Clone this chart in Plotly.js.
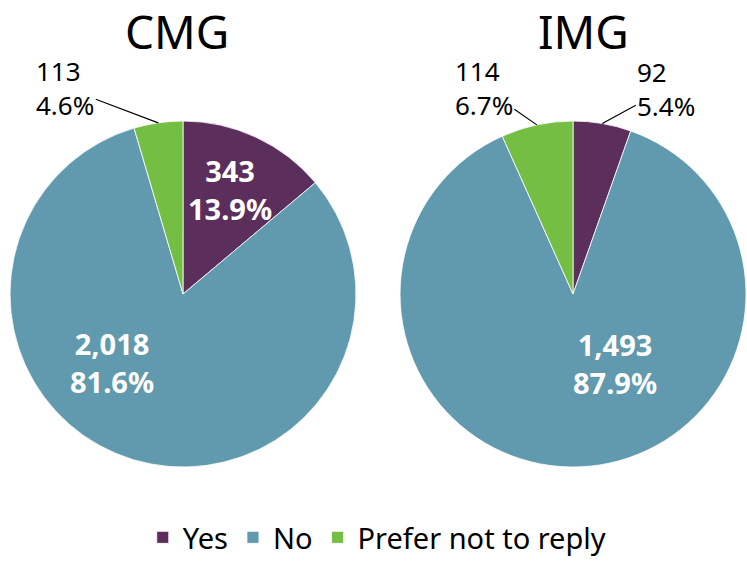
<!DOCTYPE html>
<html>
<head>
<meta charset="utf-8">
<script src="https://cdn.plot.ly/plotly-3.0.1.min.js"></script>
<style>html,body{margin:0;padding:0;background:#fff;}#chart{width:747px;height:563px;}</style>
</head>
<body>
<div id="chart"></div>
<script>
// ---- data ----
const categories = ['Yes', 'No', 'Prefer not to reply'];
const groups = ['CMG', 'IMG'];
const cmgValues = [343, 2018, 113];
const imgValues = [92, 1493, 114];
const colors = ['#5b2e5c', '#619aae', '#74be44'];

// ---- layout / styling ----
const W = 747, H = 563;
const FONT = '"Noto Sans", "Open Sans", sans-serif';
const domainsX = [[0.0134, 0.4766], [0.5355, 0.9987]];
const domainY = [0.1705, 0.785];
// label placement per slice: inside (anchor at 0.6R + pixel shift) or outside (arrow from rim, text offset)
const labelPlacement = [
  [{mode: 'in', dx: 3, dy: -10}, {mode: 'in', dx: -41, dy: -31}, {mode: 'out', dx: -93, dy: -35}],
  [{mode: 'out', dx: 64, dy: -35}, {mode: 'in', dx: 38, dy: -34}, {mode: 'out', dx: -53, dy: -37}]
];
const titleX = [177, 583];

const allValues = [cmgValues, imgValues];
const data = allValues.map((vals, i) => ({
  type: 'pie',
  name: groups[i],
  labels: categories,
  values: vals,
  sort: false,
  direction: 'clockwise',
  rotation: 0,
  domain: {x: domainsX[i], y: domainY},
  marker: {colors: colors, line: {color: '#ffffff', width: 0.8}},
  textinfo: 'none',
  hoverinfo: 'label+value+percent',
  showlegend: i === 0
}));

const fmt = n => n.toLocaleString('en-US');
const annotations = [];
allValues.forEach((vals, i) => {
  const total = vals.reduce((a, b) => a + b, 0);
  const cx = (domainsX[i][0] + domainsX[i][1]) / 2 * W;
  const cy = (1 - (domainY[0] + domainY[1]) / 2) * H;
  const R = Math.min((domainsX[i][1] - domainsX[i][0]) * W, (domainY[1] - domainY[0]) * H) / 2;
  let cum = 0;
  vals.forEach((v, j) => {
    const mid = (cum + v / 2) / total;
    cum += v;
    const ang = mid * 2 * Math.PI;
    const text = fmt(v) + '<br>' + (100 * v / total).toFixed(1) + '%';
    const p = labelPlacement[i][j];
    if (p.mode === 'in') {
      const px = cx + 0.6 * R * Math.sin(ang);
      const py = cy - 0.6 * R * Math.cos(ang);
      annotations.push({
        text: '<b>' + text + '</b>', x: px / W, y: 1 - py / H, xref: 'paper', yref: 'paper',
        xanchor: 'center', yanchor: 'middle', xshift: p.dx, yshift: -p.dy, showarrow: false,
        align: 'center', font: {size: 29, family: FONT, color: '#ffffff'}
      });
    } else {
      const px = cx + R * Math.sin(ang);
      const py = cy - R * Math.cos(ang);
      annotations.push({
        text: text, x: px / W, y: 1 - py / H, xref: 'paper', yref: 'paper',
        showarrow: true, arrowhead: 0, arrowwidth: 1.2, arrowcolor: '#000000', standoff: 0,
        ax: p.dx, ay: p.dy, align: 'left',
        font: {size: 26, family: FONT, color: '#000000'}
      });
    }
  });
  annotations.push({
    text: groups[i], x: titleX[i] / W, y: 1 - 31 / H, xref: 'paper', yref: 'paper',
    xanchor: 'center', yanchor: 'middle', showarrow: false,
    font: {size: 46, family: FONT, color: '#000000'}
  });
});

const layout = {
  width: W, height: H,
  margin: {l: 0, r: 0, t: 0, b: 0, autoexpand: false},
  paper_bgcolor: '#ffffff',
  font: {family: FONT, color: '#000000'},
  showlegend: true,
  legend: {
    orientation: 'h', x: 0.505, xanchor: 'center', y: 0, yanchor: 'bottom',
    font: {size: 29, family: FONT, color: '#000000'},
    itemwidth: 30
  },
  annotations: annotations
};

Plotly.newPlot('chart', data, layout, {displayModeBar: false});
</script>
</body>
</html>
